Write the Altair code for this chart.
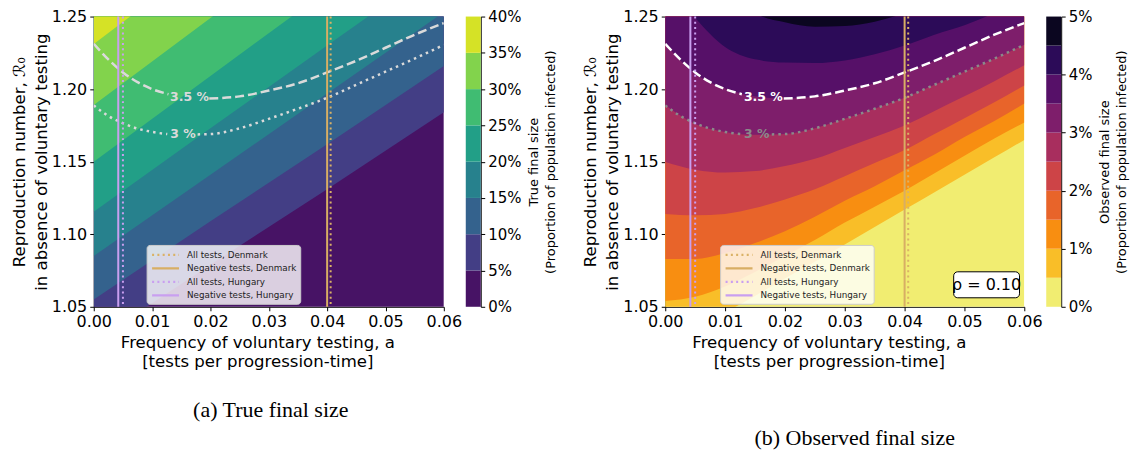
import altair as alt
import pandas as pd

# ---------------- data ----------------
x_ticks = [0.0, 0.01, 0.02, 0.03, 0.04, 0.05, 0.06]
y_ticks = [1.05, 1.10, 1.15, 1.20, 1.25]

# (a) True final size: contour levels and boundary curves R0(a)
a_levels = [0.00, 0.05, 0.10, 0.15, 0.20, 0.25, 0.30, 0.35, 0.40]
a_colors = ["#471365", "#433e85", "#34628d", "#27818d", "#229f87", "#40bc72", "#82d34c", "#d5e226"]
a_x = [0.0, 0.02, 0.04, 0.06]
a_b05 = [1.026, 1.079, 1.131, 1.184]
a_b10 = [1.055, 1.109, 1.162, 1.216]
a_b15 = [1.085, 1.141, 1.197, 1.253]
a_b20 = [1.1155, 1.173, 1.230, 1.287]
a_b25 = [1.150, 1.209, 1.268, 1.326]
a_b30 = [1.189, 1.249, 1.309, 1.369]
a_b35 = [1.231, 1.292, 1.352, 1.412]

# (b) Observed final size
b_levels = [0.000, 0.005, 0.010, 0.015, 0.020, 0.025, 0.030, 0.035, 0.040, 0.045, 0.050]
b_colors = ["#f1ed71", "#f9be28", "#f88e11", "#e8642a", "#cd4447", "#a82e5e", "#7e1e6b", "#561068", "#2c0b58", "#0b0620"]
b_x = [0.0, 0.005, 0.01, 0.015, 0.02, 0.025, 0.03, 0.035, 0.04, 0.045, 0.05, 0.055, 0.06]
b_b05 = [1.024, 1.035, 1.046, 1.0575, 1.0695, 1.081, 1.093, 1.105, 1.117, 1.129, 1.141, 1.153, 1.165]
b_b10 = [1.054, 1.057, 1.064, 1.074, 1.085, 1.096, 1.108, 1.119, 1.130, 1.142, 1.154, 1.166, 1.177]
b_b15 = [1.083, 1.083, 1.087, 1.094, 1.102, 1.112, 1.123, 1.133, 1.144, 1.155, 1.167, 1.178, 1.190]
b_b20 = [1.114, 1.113, 1.114, 1.118, 1.124, 1.131, 1.140, 1.149, 1.158, 1.169, 1.180, 1.191, 1.2025]
b_b25 = [1.1498, 1.1445, 1.1425, 1.1435, 1.147, 1.152, 1.1595, 1.167, 1.175, 1.185, 1.195, 1.2055, 1.2165]
b_b30 = [1.1888, 1.176, 1.1705, 1.1685, 1.169, 1.173, 1.1795, 1.1865, 1.194, 1.203, 1.212, 1.221, 1.2305]
b_b35 = [1.2312, 1.2105, 1.2005, 1.195, 1.1935, 1.195, 1.199, 1.204, 1.2115, 1.2195, 1.2285, 1.2375, 1.2455]
b_b40 = [1.274, 1.249, 1.229, 1.2205, 1.2183, 1.218, 1.2198, 1.224, 1.230, 1.2375, 1.244, 1.2525, 1.263]
b_b45 = [1.33, 1.30, 1.275, 1.2525, 1.246, 1.243, 1.2435, 1.2465, 1.2525, 1.262, 1.275, 1.29, 1.31]

# contour lines (3.5 % dashed, 3 % dotted), split where the label sits
dash_x1 = [0.0, 0.0025, 0.005, 0.0075, 0.01, 0.0128]
dash_y1 = [1.2312, 1.2205, 1.2115, 1.2048, 1.2, 1.1965]
dash_x2 = [0.0198, 0.025, 0.03, 0.035, 0.04, 0.045, 0.05, 0.055, 0.06]
dash_y2 = [1.1935, 1.195, 1.199, 1.204, 1.2115, 1.2195, 1.2285, 1.2375, 1.2455]
dot_x1 = [0.0, 0.0025, 0.005, 0.0075, 0.01, 0.0126]
dot_y1 = [1.1888, 1.1815, 1.1765, 1.1728, 1.1705, 1.169]
dot_x2 = [0.0178, 0.02, 0.025, 0.03, 0.035, 0.04, 0.045, 0.05, 0.055, 0.06]
dot_y2 = [1.1688, 1.169, 1.173, 1.1795, 1.1865, 1.194, 1.203, 1.212, 1.221, 1.2305]
clabels = ["3.5 %", "3 %"]
clabel_x = [0.0164, 0.0153]
clabel_y = [1.1945, 1.169]

# vertical reference lines
vl_names = ["All tests, Denmark", "Negative tests, Denmark", "All tests, Hungary", "Negative tests, Hungary"]
vl_x = [0.0406, 0.0400, 0.0050, 0.0042]
vl_colors = ["#dab266", "#d8ae64", "#c99ff0", "#c99ff0"]
vl_dash = [[2, 3.3], [1, 0], [2, 3.3], [1, 0]]

rho_text = ["ρ = 0.10"]
rho_box_x = [0.0482, 0.0592]
rho_box_y = [1.0562, 1.0741]

FLOOR, CEIL = 1.0, 1.5


def pct(v):
    return f"{v * 100:g}%"


def band_labels(levels):
    return [pct(levels[i]) + "–" + pct(levels[i + 1]) for i in range(len(levels) - 1)]


def band_frames(xs, bounds, levels):
    """One frame per filled level: from its lower contour up to the ceiling (painted bottom-up)."""
    edges = [[FLOOR] * len(xs)] + bounds
    labs = band_labels(levels)
    return [pd.DataFrame({"x": xs, "lo": edges[i], "hi": [CEIL] * len(xs), "band": [lab] * len(xs)})
            for i, lab in enumerate(labs)]


def cbar_frame(levels):
    labs = band_labels(levels)
    return pd.DataFrame([{"lo": levels[i], "hi": levels[i + 1], "band": labs[i]} for i in range(len(labs))])


line_df = pd.DataFrame(
    [{"x": x, "y": y, "seg": "d1"} for x, y in zip(dash_x1, dash_y1)]
    + [{"x": x, "y": y, "seg": "d2"} for x, y in zip(dash_x2, dash_y2)]
)
dot_df = pd.DataFrame(
    [{"x": x, "y": y, "seg": "o1"} for x, y in zip(dot_x1, dot_y1)]
    + [{"x": x, "y": y, "seg": "o2"} for x, y in zip(dot_x2, dot_y2)]
)
vl_df = pd.DataFrame({"series": vl_names, "x": vl_x})

X_TITLE = ["Frequency of voluntary testing, a", "[tests per progression-time]"]
Y_TITLE = ["Reproduction number, ℛ₀", "in absence of voluntary testing"]

x_scale = alt.Scale(domain=[0, 0.06], nice=False, zero=False)
y_scale = alt.Scale(domain=[1.05, 1.25], nice=False, zero=False)
x_axis = alt.Axis(values=x_ticks, format=".2f", title=X_TITLE, titlePadding=5, titleLineHeight=19,
                  labelFlush=False, titleX=164, titleFontSize=16.6)
y_axis = alt.Axis(values=y_ticks, format=".2f", title=Y_TITLE, titlePadding=2, titleLineHeight=22,
                  labelFlush=False, titleFontSize=16.6)


def X(field="x"):
    return alt.X(f"{field}:Q", scale=x_scale, axis=x_axis)


def Y(field="y"):
    return alt.Y(f"{field}:Q", scale=y_scale, axis=y_axis)


def make_plot(frames, levels, colors, width, dash_col, dot_col, lab_cols, interp,
              legend_x, caption, cap_offset, cap_dx, extra=None):
    labs = band_labels(levels)
    fill_scale = alt.Scale(domain=labs, range=colors)
    areas = [
        alt.Chart(f).mark_area(clip=True, interpolate=interp).encode(
            x=X(), y=alt.Y("lo:Q", scale=y_scale, axis=y_axis, stack=False), y2="hi:Q",
            fill=alt.Fill("band:N", scale=fill_scale, legend=None),
        )
        for f in frames
    ]
    dashed = alt.Chart(line_df).mark_line(
        clip=True, interpolate="monotone", strokeWidth=2.5, strokeDash=[9, 4], color=dash_col
    ).encode(x=X(), y=Y(), detail="seg:N")
    dotted = alt.Chart(dot_df).mark_line(
        clip=True, interpolate="monotone", strokeWidth=2.5, strokeDash=[2.5, 4.1], color=dot_col
    ).encode(x=X(), y=Y(), detail="seg:N")
    t1 = alt.Chart(pd.DataFrame({"x": clabel_x[:1], "y": clabel_y[:1], "t": clabels[:1]})).mark_text(
        fontSize=12.5, fontWeight="bold", color=lab_cols[0]
    ).encode(x=X(), y=Y(), text="t:N")
    t2 = alt.Chart(pd.DataFrame({"x": clabel_x[1:], "y": clabel_y[1:], "t": clabels[1:]})).mark_text(
        fontSize=12.5, fontWeight="bold", color=lab_cols[1]
    ).encode(x=X(), y=Y(), text="t:N")
    leg = alt.Legend(
        title=None, orient="none", legendX=legend_x, legendY=229, symbolType="M-2.7,0H2.7",
        symbolStrokeWidth=2.2, symbolSize=100, symbolOffset=9, labelFontSize=8.8, labelColor="#222",
        fillColor="rgba(255,255,255,0.8)", strokeColor="#cccccc", padding=3.5, cornerRadius=3,
        rowPadding=1.5, labelOffset=15,
    )
    rules = alt.Chart(vl_df).mark_rule(strokeWidth=2).encode(
        x=X(),
        stroke=alt.Stroke("series:N", scale=alt.Scale(domain=vl_names, range=vl_colors), legend=leg),
        strokeDash=alt.StrokeDash("series:N", scale=alt.Scale(domain=vl_names, range=vl_dash), legend=leg),
    )
    layers = areas + [dashed, dotted, t1, t2, rules] + (extra or [])
    return alt.layer(*layers).properties(
        width=width, height=291,
        title=alt.TitleParams(caption, orient="bottom", frame="group", anchor="middle",
                              font="Liberation Serif", fontSize=22, fontWeight="normal",
                              offset=cap_offset, dx=cap_dx, color="black"),
    )


def make_cbar(levels, colors, ticks, title):
    labs = band_labels(levels)
    return alt.Chart(cbar_frame(levels)).mark_rect().encode(
        y=alt.Y("lo:Q", scale=alt.Scale(domain=[levels[0], levels[-1]], nice=False, zero=False),
                axis=alt.Axis(orient="right", values=ticks, format=".0%", title=title,
                              titleFontSize=13, titleAngle=270, titleBaseline="top",
                              titlePadding=-10, titleLineHeight=17, labelFontSize=15,
                              labelFlush=False)),
        y2="hi:Q",
        fill=alt.Fill("band:N", scale=alt.Scale(domain=labs, range=colors), legend=None),
    ).properties(width=15, height=291)


rho_box = alt.Chart(pd.DataFrame({"x": [rho_box_x[0]], "x2": [rho_box_x[1]],
                                  "y": [rho_box_y[0]], "y2": [rho_box_y[1]]})).mark_rect(
    fill="white", stroke="black", strokeWidth=1, cornerRadius=4
).encode(x=X(), x2="x2:Q", y=Y(), y2="y2:Q")
rho_lab = alt.Chart(pd.DataFrame({"x": [(rho_box_x[0] + rho_box_x[1]) / 2],
                                  "y": [(rho_box_y[0] + rho_box_y[1]) / 2], "t": rho_text})).mark_text(
    fontSize=16, color="black"
).encode(x=X(), y=Y(), text="t:N")

plot_a = make_plot(
    band_frames(a_x, [a_b05, a_b10, a_b15, a_b20, a_b25, a_b30, a_b35], a_levels), a_levels, a_colors,
    351, "#dadada", "#dadada", ["#dadada", "#dadada"], "linear", 53,
    "(a) True final size", 30, 2,
)
plot_b = make_plot(
    band_frames(b_x, [b_b05, b_b10, b_b15, b_b20, b_b25, b_b30, b_b35, b_b40, b_b45], b_levels), b_levels, b_colors,
    360, "white", "#8a8a8a", ["white", "#8a8a8a"], "monotone", 55,
    "(b) Observed final size", 58, 10, extra=[rho_box, rho_lab],
)

cbar_a = make_cbar(a_levels, a_colors, a_levels, ["True final size", "(Proportion of population infected)"])
cbar_b = make_cbar(b_levels, b_colors, [0, 0.01, 0.02, 0.03, 0.04, 0.05],
                   ["Observed final size", "(Proportion of population infected)"])

spacer = alt.Chart(pd.DataFrame({"v": [0]})).mark_point(opacity=0).encode(
    x=alt.value(0), y=alt.value(0)
).properties(width=141, height=291)

chart = alt.hconcat(plot_a, cbar_a, spacer, plot_b, cbar_b, spacing=22, bounds="flush").resolve_scale(
    x="independent", y="independent",
    fill="independent", stroke="independent", strokeDash="independent"
).resolve_legend(
    stroke="independent", strokeDash="independent"
).properties(
    padding={"left": 11, "top": 8, "right": 5, "bottom": 0}
).configure(
    font="DejaVu Sans"
).configure_view(
    strokeWidth=0
).configure_axis(
    labelFontSize=16, titleFontSize=16, titleFontWeight="normal", labelColor="black",
    titleColor="black", domainColor="black", tickColor="black", tickSize=4, labelPadding=3,
    grid=False, labelFont="DejaVu Sans", titleFont="DejaVu Sans",
)

chart.save("out.html", embed_options={"renderer": "svg", "actions": False})
